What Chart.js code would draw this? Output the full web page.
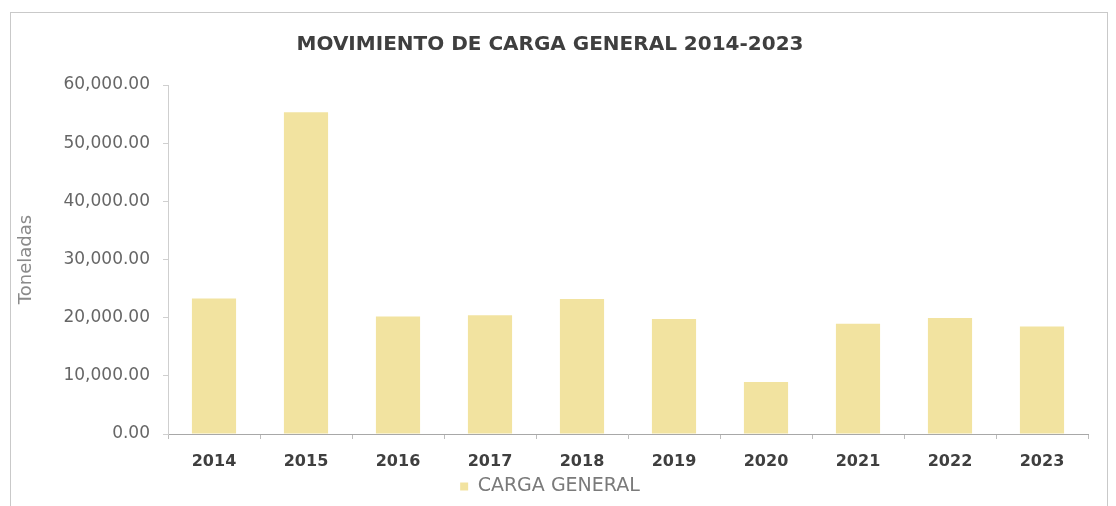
<!DOCTYPE html>
<html>
<head>
<meta charset="utf-8">
<script src="https://cdn.jsdelivr.net/npm/chart.js@4"></script>
<style>
  html, body { margin: 0; padding: 0; background: #fff; }
  #wrap { width: 1116px; height: 506px; }
</style>
</head>
<body>
<div id="wrap"><canvas id="cargaChart" width="1116" height="506"></canvas></div>
<script>
'use strict';

// datos
var years = ['2014', '2015', '2016', '2017', '2018', '2019', '2020', '2021', '2022', '2023'];
var cargaGeneral = [23300, 55300, 20200, 20400, 23200, 19750, 8950, 18950, 19950, 18500];
var yMax = 60000;
var yStep = 10000;

var chartTitle = 'MOVIMIENTO DE CARGA GENERAL 2014-2023';
var seriesLabel = 'CARGA GENERAL';
var yTitle = 'Toneladas';

var fontFam = "'DejaVu Sans', sans-serif";

// marco gris alrededor del grafico
var framePlugin = {
  id: 'frame',
  beforeDraw: function (chart) {
    var c = chart.ctx;
    c.save();
    c.fillStyle = '#fff';
    c.fillRect(0, 0, chart.width, chart.height);
    c.strokeStyle = '#c9c9c9';
    c.lineWidth = 1;
    c.strokeRect(10.5, 12.5, 1097, 520);
    c.restore();
  }
};

var ctx = document.getElementById('cargaChart').getContext('2d');

var cargaChart = new Chart(ctx, {
  type: 'bar',
  data: {
    labels: years,
    datasets: [
      {
        label: seriesLabel,
        data: cargaGeneral,
        backgroundColor: '#F2E3A0',
        borderWidth: 0,
        categoryPercentage: 1.0,
        barPercentage: 0.48
      }
    ]
  },
  options: {
    responsive: false,
    animation: false,
    layout: { padding: { left: 12, right: 28, top: 0, bottom: 0 } },
    plugins: {
      title: {
        display: true,
        text: chartTitle,
        color: '#3f3f3f',
        font: { family: fontFam, size: 20, weight: 'bold' },
        padding: { top: 33, bottom: 28 }
      },
      legend: {
        position: 'bottom',
        labels: {
          color: '#7a7a7a',
          font: { family: fontFam, size: 19 },
          boxWidth: 8,
          boxHeight: 8,
          padding: 4
        }
      },
      tooltip: { enabled: false }
    },
    scales: {
      x: {
        grid: {
          display: true,
          drawOnChartArea: false,
          offset: true,
          tickLength: 5,
          color: '#bdbdbd'
        },
        border: { display: true, color: '#a8a8a8' },
        ticks: {
          color: '#3f3f3f',
          font: { family: fontFam, size: 16, weight: 'bold' },
          padding: 13
        },
        afterFit: function (scale) {
          scale.height = 39;
        }
      },
      y: {
        min: 0,
        max: yMax,
        grid: {
          display: true,
          drawOnChartArea: false,
          tickLength: 5,
          color: '#cfcfcf'
        },
        border: { display: true, color: '#cfcfcf' },
        ticks: {
          stepSize: yStep,
          color: '#666',
          font: { family: fontFam, size: 17 },
          padding: 13,
          callback: function (v) {
            return v.toLocaleString('en-US', { minimumFractionDigits: 2, maximumFractionDigits: 2 });
          }
        },
        title: {
          display: true,
          text: yTitle,
          color: '#8a8a8a',
          font: { family: fontFam, size: 18 },
          padding: 4
        },
        afterFit: function (scale) {
          scale.width = 156;
        }
      }
    }
  },
  plugins: [framePlugin]
});
</script>
</body>
</html>
